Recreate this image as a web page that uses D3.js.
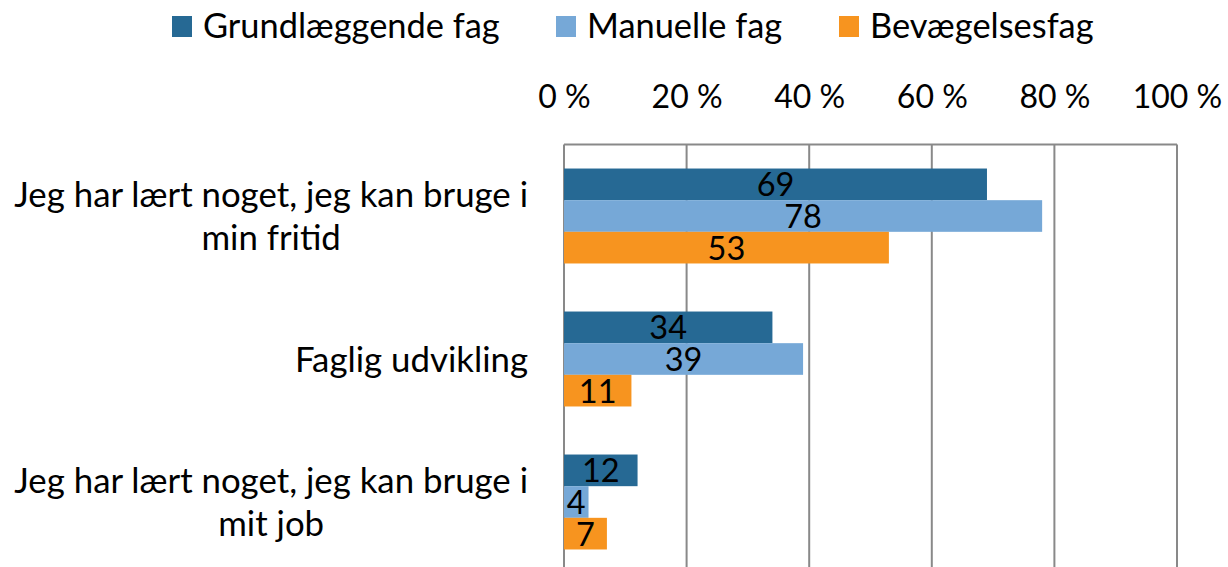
<!DOCTYPE html>
<html><head><meta charset="utf-8">
<script src="https://cdn.jsdelivr.net/npm/d3@7/dist/d3.min.js"></script>
<style>
html,body{margin:0;padding:0;background:#fff;}
svg{display:block;}
text{font-family:Lato,"Open Sans",sans-serif;fill:#000;}
</style></head>
<body><svg id="c" width="1228" height="567"></svg>
<script>
const categories = [
  ["Jeg har lært noget, jeg kan bruge i", "min fritid"],
  ["Faglig udvikling"],
  ["Jeg har lært noget, jeg kan bruge i", "mit job"]
];
const seriesNames = ["Grundlæggende fag", "Manuelle fag", "Bevægelsesfag"];
const grundlaeggende = [69, 34, 12];
const manuelle = [78, 39, 4];
const bevaegelse = [53, 11, 7];
const tickValues = [0, 20, 40, 60, 80, 100];
const colors = ["#266994", "#76a8d7", "#f7941f"];

const series = [grundlaeggende, manuelle, bevaegelse];
const svg = d3.select("#c");
const x = d3.scaleLinear().domain([0, 100]).range([564, 1177]);
const y0 = d3.scaleBand().domain(d3.range(categories.length)).range([144.5, 573.5]).paddingInner(0.336).paddingOuter(0.168);
const y1 = d3.scaleBand().domain(d3.range(series.length)).range([0, y0.bandwidth()]);

// gridlines
const grid = svg.append("g");
grid.selectAll("line").data(tickValues).join("line")
  .attr("x1", d => x(d)).attr("x2", d => x(d))
  .attr("y1", 144.5).attr("y2", 580)
  .attr("stroke", "#898989").attr("stroke-width", 2);
grid.append("line").attr("x1", x(0)).attr("x2", x(100)).attr("y1", 144.5).attr("y2", 144.5)
  .attr("stroke", "#898989").attr("stroke-width", 2);

// top axis labels
const axis = d3.axisTop(x).tickValues(tickValues).tickFormat(d => d + " %").tickSize(0).tickPadding(0);
const ag = svg.append("g").attr("transform", "translate(0,108)").call(axis);
ag.select(".domain").remove();
ag.selectAll("text").attr("font-size", 32).attr("font-family", "Lato").attr("fill", "#000").attr("dy", 0);

// bars
const groups = svg.append("g").selectAll("g").data(categories).join("g")
  .attr("transform", (d, i) => `translate(0,${y0(i)})`);
groups.each(function(c, ci) {
  const g = d3.select(this);
  series.forEach((s, si) => {
    g.append("rect")
      .attr("x", x(0)).attr("y", y1(si))
      .attr("width", x(s[ci]) - x(0)).attr("height", y1.bandwidth())
      .attr("fill", colors[si]);
    g.append("text")
      .attr("x", (x(0) + x(s[ci])) / 2)
      .attr("y", y1(si) + y1.bandwidth() / 2 + 12)
      .attr("text-anchor", "middle")
      .attr("font-size", 32.5)
      .text(s[ci]);
  });
});

// category labels
const labelG = svg.append("g");
categories.forEach((lines, ci) => {
  const cy = y0(ci) + y0.bandwidth() / 2;
  const lh = 43;
  const g = labelG.append("g");
  const texts = lines.map((t, li) => g.append("text")
    .attr("font-size", 34.8)
    .attr("text-anchor", "middle")
    .attr("y", cy + (li - (lines.length - 1) / 2) * lh + 12.5)
    .text(t));
  const w = d3.max(texts, t => t.node().getComputedTextLength());
  const cx = 528 - w / 2;
  texts.forEach(t => t.attr("x", cx));
});

// legend
const legendX = [172, 556, 839];
const lg = svg.append("g");
seriesNames.forEach((n, i) => {
  lg.append("rect").attr("x", legendX[i]).attr("y", 16).attr("width", 20).attr("height", 21).attr("fill", colors[i]);
  lg.append("text").attr("x", legendX[i] + 31).attr("y", 38).attr("font-size", 34.4).text(n);
});
</script></body></html>
